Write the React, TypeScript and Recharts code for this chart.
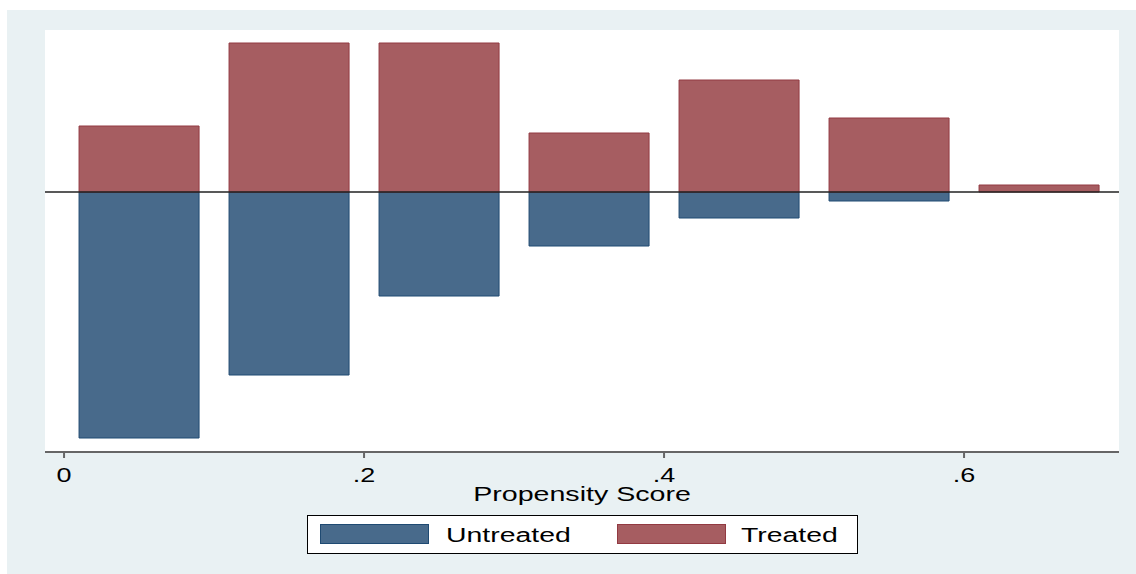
import { BarChart, Bar, XAxis, YAxis, CartesianGrid, ReferenceLine } from 'recharts'

// bin midpoints of the propensity score (bins are 0.1 wide)
const binMids = [0.05, 0.15, 0.25, 0.35, 0.45, 0.55, 0.65]
// treated counts plotted above zero, untreated below
const treatedCounts = [66, 149, 149, 59, 112, 74, 7]
const untreatedCounts = [246, 183, 104, 54, 26, 9, 0]
const xTicks = [0, 0.2, 0.4, 0.6]

const series = [
  { key: 'untreated', name: 'Untreated', fill: '#486a8b', stroke: '#1f4a72' },
  { key: 'treated', name: 'Treated', fill: '#a65d61', stroke: '#923a42' },
]

const rows = binMids.map((mid, i) => ({
  mid,
  treated: treatedCounts[i],
  untreated: -untreatedCounts[i],
}))

const FONT = '"Liberation Sans", Arial, sans-serif'

const fmtTick = (v: number) => (v === 0 ? '0' : String(v).replace(/^0/, ''))

function StretchedTick(props: any) {
  const { x, y, payload } = props
  return (
    <g transform={`translate(${x},${y + 22})`}>
      <text transform="scale(1.35,1)" textAnchor="middle" fontFamily={FONT} fontSize={20} fill="#000">
        {fmtTick(payload.value)}
      </text>
    </g>
  )
}

function AxisTitle(props: any) {
  const { viewBox } = props
  const cx = viewBox.x + viewBox.width / 2
  return (
    <g transform={`translate(${cx},${viewBox.y + 49})`}>
      <text transform="scale(1.43,1)" textAnchor="middle" fontFamily={FONT} fontSize={20} fill="#000">
        Propensity Score
      </text>
    </g>
  )
}

function LegendBox() {
  const swatchLeft = [12, 309]
  const textLeft = [138, 433]
  return (
    <div
      style={{
        position: 'absolute',
        left: 307,
        top: 515,
        width: 549,
        height: 37,
        background: '#fff',
        border: '1px solid #000',
        fontFamily: FONT,
        fontSize: 20,
      }}
    >
      {series.map((s, i) => (
        <div key={s.key}>
          <div
            style={{
              position: 'absolute',
              left: swatchLeft[i],
              top: 8,
              width: 107,
              height: 18,
              background: s.fill,
              border: `1px solid ${s.stroke}`,
            }}
          />
          <div
            style={{
              position: 'absolute',
              left: textLeft[i],
              top: 8,
              lineHeight: '23px',
              transform: 'scaleX(1.42)',
              transformOrigin: 'left center',
              whiteSpace: 'nowrap',
            }}
          >
            {s.name}
          </div>
        </div>
      ))}
    </div>
  )
}

export default function App() {
  return (
    <div style={{ position: 'fixed', left: 0, top: 0, width: 1136, height: 574, background: '#fff' }}>
      <div style={{ position: 'absolute', left: 7, top: 10, right: 0, bottom: 0, background: '#e9f1f3' }} />
      <div style={{ position: 'absolute', left: 0, top: 0 }}>
        <BarChart
          width={1136}
          height={574}
          data={rows}
          stackOffset="sign"
          margin={{ top: 30, right: 17, bottom: 92, left: 45 }}
        >
          <CartesianGrid fill="#fff" fillOpacity={1} stroke="none" horizontal={false} vertical={false} />
          <XAxis
            type="number"
            dataKey="mid"
            domain={[-0.0127, 0.7033]}
            allowDataOverflow
            ticks={xTicks}
            height={30}
            tickSize={6}
            stroke="#666"
            strokeWidth={2}
            tick={<StretchedTick />}
            label={<AxisTitle />}
          />
          <YAxis
            type="number"
            domain={[-260, 162]}
            allowDataOverflow
            width={0}
            tick={false}
            tickLine={false}
            stroke="#000"
            strokeWidth={2}
          />
          <ReferenceLine y={0} stroke="#222" strokeWidth={1.5} />
          {series.map((s) => (
            <Bar
              key={s.key}
              dataKey={s.key}
              name={s.name}
              stackId="ps"
              barSize={120}
              fill={s.fill}
              stroke={s.stroke}
              strokeWidth={1}
              isAnimationActive={false}
            />
          ))}
        </BarChart>
      </div>
      <LegendBox />
    </div>
  )
}
